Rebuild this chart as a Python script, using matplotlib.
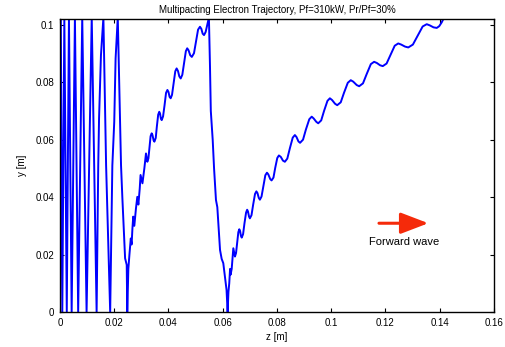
import numpy as np
import matplotlib.pyplot as plt
from matplotlib.patches import FancyArrowPatch

plt.rcParams.update({
    'font.family': ['Liberation Sans', 'DejaVu Sans'],
    'font.size': 7,
    'xtick.direction': 'in',
    'ytick.direction': 'in',
    'xtick.top': True,
    'ytick.right': True,
})

BLUE = '#0000ff'
RED = '#f52a0a'
T = 0.1025  # top wall (just above the plotted range)

# ---------------------------------------------------------------
# trajectory, section by section
# ---------------------------------------------------------------
# fast bounces near the entrance
z_bounce = [0.0, 0.0003, 0.00085, 0.0016, 0.0025, 0.0033, 0.0043, 0.0055,
            0.0067, 0.0082, 0.0098, 0.0117, 0.0135, 0.0141, 0.0144, 0.0151,
            0.0160, 0.0170, 0.0185, 0.0193, 0.0200, 0.0205, 0.0213, 0.0218,
            0.0225, 0.0230, 0.0240, 0.0246, 0.0248]
y_bounce = [0.0, T, 0.0, T, 0.0, T, 0.0, T,
            0.0, T, 0.0, T, 0.0, 0.051, 0.0675, 0.0894,
            T, 0.051, 0.0, 0.051, 0.0662, 0.0883, T, 0.0814,
            0.0511, 0.0396, 0.0187, 0.0164, 0.0]

# first slow climb with ripples
z_climb1 = [0.0252, 0.0256, 0.0261, 0.0264, 0.0267, 0.0270, 0.0274, 0.0280,
            0.0285, 0.0289, 0.0294, 0.0297, 0.0304, 0.0311, 0.0317, 0.0322,
            0.0326, 0.0330, 0.0334, 0.0338, 0.0341, 0.0345, 0.0348,
            0.0353, 0.0357, 0.0362, 0.0366, 0.0369, 0.0372, 0.0375,
            0.0380, 0.03855, 0.0391, 0.0396, 0.0400, 0.0404, 0.0408,
            0.0413, 0.0419, 0.0425, 0.0430, 0.0435, 0.0440, 0.0445,
            0.0451, 0.0457, 0.0464, 0.0469, 0.0474, 0.0480, 0.0486,
            0.0494, 0.0501, 0.0509, 0.0516, 0.0521, 0.0526, 0.0531,
            0.0537, 0.0543, 0.0549]
y_climb1 = [0.0150, 0.0200, 0.0256, 0.0235, 0.0290, 0.0332, 0.0300, 0.0360,
            0.0401, 0.0374, 0.0430, 0.0477, 0.0448, 0.0500, 0.0552, 0.0523,
            0.0535, 0.0572, 0.0612, 0.0622, 0.0616, 0.0598, 0.0593,
            0.0606, 0.0645, 0.0687, 0.0697, 0.0690, 0.0673, 0.0668,
            0.0681, 0.0720, 0.0763, 0.0773, 0.0766, 0.0749, 0.0744,
            0.0756, 0.0796, 0.0838, 0.0848, 0.0839, 0.0820, 0.0813,
            0.0826, 0.0865, 0.0908, 0.0918, 0.0911, 0.0894, 0.0888,
            0.0901, 0.0940, 0.0983, 0.0993, 0.0986, 0.0969, 0.0964,
            0.0975, 0.1000, T]

# drop back to the bottom wall
z_drop = [0.0553, 0.0556, 0.0563, 0.0568, 0.0575, 0.0580, 0.0590, 0.0596,
          0.0602, 0.0610, 0.0614, 0.0618]
y_drop = [0.0854, 0.0700, 0.0599, 0.0500, 0.0390, 0.0365, 0.0216, 0.0185,
          0.0170, 0.0110, 0.0077, 0.0]

# second slow climb with ripples
z_climb2 = [0.0621, 0.0624, 0.0627, 0.0629, 0.0633, 0.0639, 0.0645,
            0.0649, 0.0653, 0.06575, 0.0661, 0.0664, 0.0667, 0.0670,
            0.0675, 0.0680, 0.0686, 0.0690, 0.0693, 0.0697, 0.0700,
            0.0706, 0.0712, 0.0719, 0.0724, 0.0728, 0.0733, 0.0737,
            0.0743, 0.0750, 0.0757, 0.0763, 0.0768, 0.0775, 0.0780,
            0.0787, 0.07935, 0.0801, 0.0807, 0.0814, 0.0822, 0.0829,
            0.0838, 0.08475, 0.0858, 0.0866, 0.0872, 0.0879, 0.0885,
            0.0896, 0.09065, 0.0919, 0.0928, 0.0935, 0.0945, 0.0952,
            0.0963, 0.09735, 0.0986, 0.0995, 0.1003, 0.1014, 0.1022,
            0.1035, 0.1047, 0.1061, 0.1072, 0.1081, 0.1094, 0.1103,
            0.1117, 0.11305, 0.1146, 0.1158, 0.1168, 0.1180, 0.1190,
            0.1204, 0.12185, 0.1234, 0.1247, 0.1258, 0.1272, 0.1284,
            0.1301, 0.1318, 0.1337, 0.1352, 0.1363, 0.1377, 0.1389,
            0.1398, 0.1407, 0.1416]
y_climb2 = [0.0070, 0.0100, 0.0150, 0.0130, 0.0150, 0.0222, 0.0193,
            0.0205, 0.0240, 0.0278, 0.0288, 0.0282, 0.0265, 0.0259,
            0.0271, 0.0308, 0.0346, 0.0356, 0.0350, 0.0332, 0.0326,
            0.0337, 0.0373, 0.0411, 0.0420, 0.0414, 0.0397, 0.0391,
            0.0402, 0.0438, 0.0476, 0.0485, 0.0479, 0.0463, 0.0458,
            0.0468, 0.0502, 0.0536, 0.0545, 0.0540, 0.0527, 0.0523,
            0.0534, 0.0570, 0.0607, 0.0616, 0.0609, 0.0594, 0.0589,
            0.0600, 0.0635, 0.0671, 0.0680, 0.0674, 0.0662, 0.0657,
            0.0667, 0.0700, 0.0735, 0.0744, 0.0738, 0.0725, 0.0720,
            0.0730, 0.0763, 0.0798, 0.0807, 0.0802, 0.0790, 0.0786,
            0.0796, 0.0828, 0.0863, 0.0871, 0.0867, 0.0859, 0.0856,
            0.0865, 0.0895, 0.0927, 0.0935, 0.0931, 0.0924, 0.0921,
            0.0931, 0.0961, 0.0994, 0.1002, 0.0998, 0.0991, 0.0989,
            0.0995, 0.1008, T]

z_all = z_bounce + z_climb1 + z_drop + z_climb2
y_all = y_bounce + y_climb1 + y_drop + y_climb2

xticks = [0, 0.02, 0.04, 0.06, 0.08, 0.1, 0.12, 0.14, 0.16]
xtick_labels = ['0', '0.02', '0.04', '0.06', '0.08', '0.1', '0.12', '0.14', '0.16']
yticks = [0, 0.02, 0.04, 0.06, 0.08, 0.1]
ytick_labels = ['0', '0.02', '0.04', '0.06', '0.08', '0.1']

arrow_start = (0.1176, 0.0309)
arrow_end = (0.1358, 0.0309)
label_pos = (0.1269, 0.0243)

# ---------------------------------------------------------------
fig = plt.figure(figsize=(5.05, 3.47), dpi=100)
ax = fig.add_axes([0.1188, 0.1009, 0.8594, 0.8443])

ax.plot(z_all, y_all, color=BLUE, lw=1.4, solid_joinstyle='round')

ax.add_patch(FancyArrowPatch(arrow_start, arrow_end,
                             arrowstyle='-|>,head_length=1.7,head_width=0.65',
                             mutation_scale=10, lw=2.2, color=RED,
                             shrinkA=0, shrinkB=0))
ax.text(*label_pos, 'Forward wave', ha='center', va='center', fontsize=8)

ax.set_xlim(0, 0.16)
ax.set_ylim(0, 0.102)
ax.set_xticks(xticks)
ax.set_xticklabels(xtick_labels)
ax.set_yticks(yticks)
ax.set_yticklabels(ytick_labels)
ax.tick_params(length=3, width=0.8, pad=4)
for s in ax.spines.values():
    s.set_linewidth(1.0)

ax.set_title('Multipacting Electron Trajectory, Pf=310kW, Pr/Pf=30%',
             fontsize=7, pad=4)
ax.set_xlabel('z [m]', labelpad=3)
ax.set_ylabel('y [m]', labelpad=6)

fig.savefig('out.png', dpi=100)
